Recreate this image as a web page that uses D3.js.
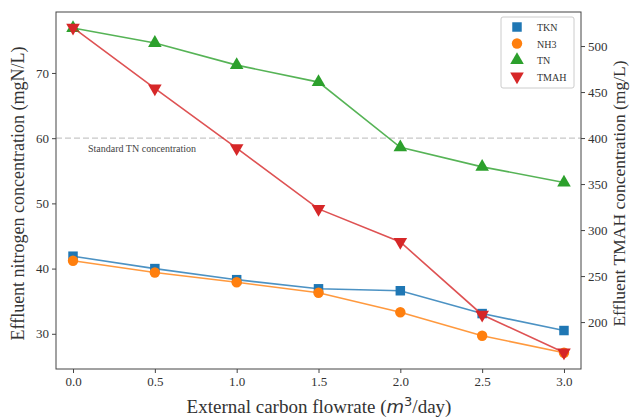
<!DOCTYPE html>
<html>
<head>
<meta charset="utf-8">
<script src="https://cdn.jsdelivr.net/npm/d3@7"></script>
<style>
  body { margin: 0; background: #fff; }
  text { font-family: "Liberation Serif", "Times New Roman", serif; fill: #333; }
</style>
</head>
<body>
<div id="chart"></div>
<script>
var WD = 640, HT = 420
var margin = { left: 56, right: 59, top: 12, bottom: 51 }
var width = WD - margin.left - margin.right
var height = HT - margin.top - margin.bottom

// data
var flowrate = [0.0, 0.5, 1.0, 1.5, 2.0, 2.5, 3.0]
var tkn  = [41.9, 40.0, 38.3, 36.9, 36.6, 33.1, 30.5]
var nh3  = [41.2, 39.4, 37.9, 36.3, 33.3, 29.7, 27.1]
var tn   = [76.9, 74.6, 71.2, 68.6, 58.6, 55.6, 53.2]
var tmah = [520, 454, 389, 323, 287, 208, 167]
var xTicks = [0.0, 0.5, 1.0, 1.5, 2.0, 2.5, 3.0]
var leftTicks = [30, 40, 50, 60, 70]
var rightTicks = [200, 250, 300, 350, 400, 450, 500]
var standardTN = 60

var series = [
  { name: "TKN",  values: tkn,  axis: "left",  color: "#1f77b4", symbol: d3.symbolSquare },
  { name: "NH3",  values: nh3,  axis: "left",  color: "#ff7f0e", symbol: d3.symbolCircle },
  { name: "TN",   values: tn,   axis: "left",  color: "#2ca02c", symbol: d3.symbolTriangle },
  { name: "TMAH", values: tmah, axis: "right", color: "#d62728", symbol: "down" }
]

var svg = d3.select("#chart").append("svg")
    .attr("width", WD)
    .attr("height", HT)
  .append("g")
    .attr("transform", "translate(" + margin.left + "," + margin.top + ")")

var x = d3.scaleLinear().domain([-0.104, 3.104]).range([0, width])
var yL = d3.scaleLinear().domain([24.6, 79.35]).range([height, 0])
var yR = d3.scaleLinear().domain([149, 537]).range([height, 0])

// standard TN line
svg.append("line")
    .attr("x1", 0).attr("x2", width)
    .attr("y1", yL(standardTN)).attr("y2", yL(standardTN))
    .attr("stroke", "#c8c8c8")
    .attr("stroke-width", 1.3)
    .attr("stroke-dasharray", "6,3")
svg.append("text")
    .attr("x", 32).attr("y", yL(standardTN) + 14)
    .style("font-size", "10px")
    .style("fill", "#444")
    .text("Standard TN concentration")

function markerPath(s) {
  if (s.symbol === "down") return d3.symbol().type(d3.symbolTriangle).size(80)()
  if (s.symbol === d3.symbolTriangle) return d3.symbol().type(s.symbol).size(80)()
  if (s.symbol === d3.symbolCircle) return d3.symbol().type(s.symbol).size(85)()
  return d3.symbol().type(s.symbol).size(90)()
}

series.forEach(function(s) {
  var y = s.axis === "left" ? yL : yR
  var line = d3.line()
      .x(function(d, i) { return x(flowrate[i]) })
      .y(function(d) { return y(d) })
  svg.append("path")
      .datum(s.values)
      .attr("d", line)
      .attr("fill", "none")
      .attr("stroke", s.color)
      .attr("stroke-opacity", 0.8)
      .attr("stroke-width", 1.6)
  svg.selectAll(".m-" + s.name)
      .data(s.values)
      .enter().append("path")
      .attr("class", "m-" + s.name)
      .attr("d", markerPath(s))
      .attr("transform", function(d, i) {
        return "translate(" + x(flowrate[i]) + "," + y(d) + ")" + (s.symbol === "down" ? " rotate(180)" : "")
      })
      .attr("fill", s.color)
})

// frame
svg.append("rect")
    .attr("width", width).attr("height", height)
    .attr("fill", "none")
    .attr("stroke", "#444")
    .attr("stroke-width", 1)

// axes
var xAxis = svg.append("g")
    .attr("transform", "translate(0," + height + ")")
    .call(d3.axisBottom(x).tickValues(xTicks).tickFormat(d3.format(".1f")).tickSizeOuter(0).tickSize(4).tickPadding(4))
var lAxis = svg.append("g")
    .call(d3.axisLeft(yL).tickValues(leftTicks).tickSizeOuter(0).tickSize(4).tickPadding(3))
var rAxis = svg.append("g")
    .attr("transform", "translate(" + width + ",0)")
    .call(d3.axisRight(yR).tickValues(rightTicks).tickSizeOuter(0).tickSize(4).tickPadding(3))

;[xAxis, lAxis, rAxis].forEach(function(a) {
  a.select(".domain").remove()
  a.selectAll("line").attr("stroke", "#444")
  a.selectAll("text")
      .style("font-family", "'Liberation Serif', serif")
      .style("font-size", "13px")
      .style("fill", "#333")
})

// axis labels
var xl = svg.append("text")
    .attr("x", (182 + 456) / 2 - margin.left)
    .attr("y", height + 44)
    .attr("text-anchor", "middle")
    .style("font-size", "19px")
xl.append("tspan").text("External carbon flowrate (")
xl.append("tspan").text("m")
    .style("font-family", "'DejaVu Sans', sans-serif").style("font-style", "italic")
    .style("font-size", "18px")
xl.append("tspan").text("3").attr("dy", -7).style("font-size", "13px")
    .style("font-family", "'DejaVu Sans', sans-serif")
xl.append("tspan").text("/day)").attr("dy", 7)

svg.append("text")
    .attr("transform", "translate(" + (-32) + "," + (height / 2 + 3) + ") rotate(-90)")
    .attr("text-anchor", "middle")
    .style("font-size", "18px")
    .text("Effluent nitrogen concentration (mgN/L)")
svg.append("text")
    .attr("transform", "translate(" + (width + 44) + "," + (height / 2 + 3) + ") rotate(-90)")
    .attr("text-anchor", "middle")
    .style("font-size", "17.5px")
    .text("Effluent TMAH concentration (mg/L)")

// legend
var lg = svg.append("g").attr("transform", "translate(" + (width - 80) + ",5)")
lg.append("rect")
    .attr("width", 73).attr("height", 71)
    .attr("rx", 2)
    .attr("fill", "#fff").attr("fill-opacity", 0.8)
    .attr("stroke", "#ccc")
series.forEach(function(s, i) {
  var row = lg.append("g").attr("transform", "translate(0," + (10 + i * 16.5) + ")")
  row.append("path")
      .attr("d", markerPath(s))
      .attr("transform", "translate(16,0)" + (s.symbol === "down" ? " rotate(180)" : ""))
      .attr("fill", s.color)
  row.append("text")
      .attr("x", 36).attr("y", 4)
      .style("font-size", "10px")
      .style("fill", "#333")
      .text(s.name)
})
</script>
</body>
</html>
